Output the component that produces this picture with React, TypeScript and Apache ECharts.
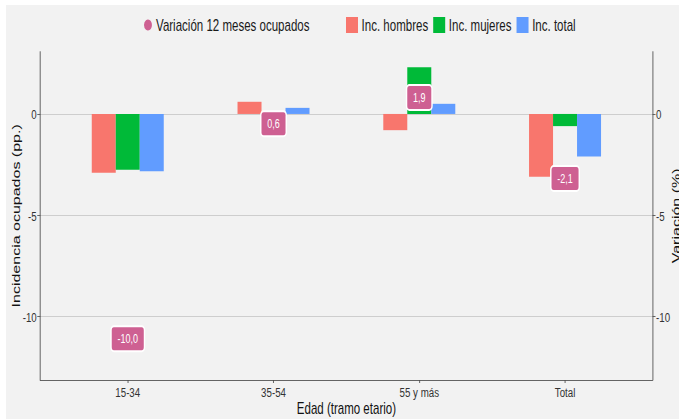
import React, { useEffect, useRef } from "react";
import * as echarts from "echarts";

const categories = ["15-34", "35-54", "55 y más", "Total"];
const incHombres = [-2.9, 0.6, -0.8, -3.1];
const incMujeres = [-2.75, 0.0, 2.3, -0.6];
const incTotal = [-2.83, 0.3, 0.5, -2.1];
const variacion = [-10.0, 0.6, 1.9, -2.1];
const yTicks = [-10, -5, 0];
const xTicks = [0, 1, 2, 3];

// the reference is horizontally condensed; the chart is drawn wider and squeezed with scaleX
const S = 0.72;
const PANEL_W = 673;
const CHART_W = PANEL_W / S;

const FONT = "'Liberation Sans', Arial, sans-serif";
const RED = "#f8766d";
const GREEN = "#00ba38";
const BLUE = "#619cff";
const PINK = "#ce6092";
const AXIS = "#4d4d4d";

export default function App() {
  const ref = useRef<HTMLDivElement>(null);
  useEffect(() => {
    document.body.style.margin = "0";
    if (!ref.current) return;
    const chart = echarts.init(ref.current, undefined, { renderer: "svg" });
    const yCommon = {
      type: "value",
      min: -13.12,
      max: 3.07,
      nameMoveOverlap: false,
      axisLine: { show: true, onZero: false, lineStyle: { color: AXIS, width: 1 } },
      axisTick: { show: true, length: 4.2, customValues: yTicks, lineStyle: { color: AXIS } },
      axisLabel: {
        customValues: yTicks,
        margin: 5,
        color: "#333",
        fontFamily: FONT,
        fontSize: 13.5,
      },
      nameLocation: "middle",
      nameTextStyle: { fontFamily: FONT, fontSize: 16, color: "#111" },
    };
    const barSeries = (name: string, arr: number[], color: string) => ({
      name,
      type: "bar",
      xAxisIndex: 0,
      yAxisIndex: 0,
      barWidth: 24 / S,
      barGap: "0%",
      itemStyle: { color },
      emphasis: { disabled: true },
      data: arr.map((v, i) => [i, v]),
    });
    const legendText = { fontFamily: FONT, fontSize: 16, color: "#1a1a1a" };
    chart.setOption({
      animation: false,
      backgroundColor: "#f2f2f2",
      legend: [
        {
          left: (144 - 6) / S,
          top: 12,
          padding: 0,
          itemWidth: 12.5,
          itemHeight: 11,
          itemGap: 5 / S,
          textStyle: legendText,
          data: [
            {
              name: "Variación 12 meses ocupados",
              icon: "circle",
              itemStyle: { color: PINK, opacity: 1 },
            },
          ],
        },
        {
          left: (346 - 6) / S,
          top: 12,
          padding: 0,
          itemWidth: 12 / S,
          itemHeight: 16,
          itemGap: 5 / S,
          icon: "rect",
          textStyle: legendText,
          data: ["Inc. hombres", "Inc. mujeres", "Inc. total"],
        },
      ],
      grid: {
        left: 34.3 / S,
        right: 26.7 / S,
        top: 46.7,
        bottom: 39,
        outerBoundsMode: "none",
        containLabel: false,
      },
      xAxis: {
        type: "value",
        min: -0.6,
        max: 3.6,
        name: "Edad (tramo etario)",
        nameLocation: "middle",
        nameGap: 20,
        nameMoveOverlap: false,
        nameTextStyle: { fontFamily: FONT, fontSize: 16, color: "#111" },
        axisLine: { show: true, onZero: false, lineStyle: { color: AXIS, width: 1 } },
        axisTick: { show: true, length: 3, customValues: xTicks, lineStyle: { color: AXIS } },
        axisLabel: {
          customValues: xTicks,
          formatter: (v: number) => categories[Math.round(v)] ?? "",
          margin: 5,
          color: "#333",
          fontFamily: FONT,
          fontSize: 13.5,
        },
        splitLine: { show: false },
      },
      yAxis: [
        {
          ...yCommon,
          position: "left",
          name: "Incidencia ocupados (pp.)",
          nameGap: 26,
          splitLine: { show: true, lineStyle: { color: "#c8c8c8", width: 1 } },
        },
        {
          ...yCommon,
          position: "right",
          name: "Variación (%)",
          nameGap: 25,
          splitLine: { show: false },
        },
      ],
      series: [
        barSeries("Inc. hombres", incHombres, RED),
        barSeries("Inc. mujeres", incMujeres, GREEN),
        barSeries("Inc. total", incTotal, BLUE),
        {
          name: "Variación 12 meses ocupados",
          type: "scatter",
          xAxisIndex: 0,
          yAxisIndex: 1,
          symbol: "circle",
          symbolSize: 1,
          z: 5,
          itemStyle: { color: "rgba(0,0,0,0)", opacity: 1 },
          emphasis: { disabled: true },
          label: {
            show: true,
            position: "inside",
            offset: [0, 22],
            formatter: (p: any) => Number(p.value[1]).toFixed(1).replace(".", ","),
            color: "#ffffff",
            opacity: 1,
            fontFamily: FONT,
            fontSize: 12.5,
            backgroundColor: PINK,
            borderColor: "#ffffff",
            borderWidth: 2,
            borderRadius: 3,
            padding: [5, 8],
          },
          data: variacion.map((v, i) => [i, v]),
        },
      ],
    });
    return () => chart.dispose();
  }, []);
  return (
    <div style={{ position: "relative", width: 679, height: 419, background: "#ffffff", overflow: "hidden" }}>
      <div
        style={{
          position: "absolute",
          left: 6,
          top: 5,
          width: PANEL_W,
          height: 414,
          overflow: "hidden",
        }}
      >
        <div
          ref={ref}
          style={{
            width: CHART_W,
            height: 414,
            transform: `scaleX(${S})`,
            transformOrigin: "0 0",
          }}
        />
      </div>
    </div>
  );
}
